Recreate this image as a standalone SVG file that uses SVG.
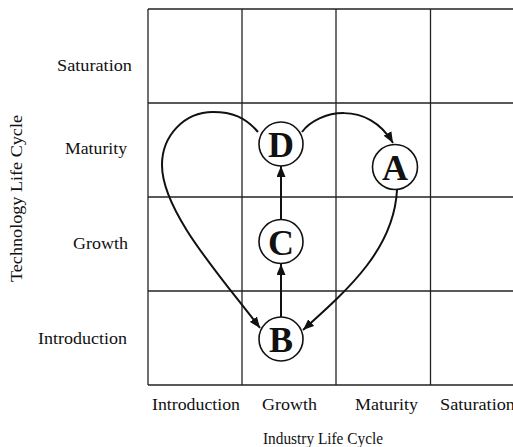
<svg xmlns="http://www.w3.org/2000/svg" width="513" height="447" viewBox="0 0 513 447">
<style>
.lbl{font-family:"Liberation Serif","Times New Roman",serif;font-size:16.5px;fill:#111}
.node circle{fill:#fff;stroke:#111;stroke-width:1.6}
.node text{font-family:"Liberation Serif","Times New Roman",serif;font-weight:bold;font-size:36px;fill:#111;text-anchor:middle}
.grid line{stroke:#222;stroke-width:1.3}
.edge{fill:none;stroke:#111;stroke-width:2}
</style>
<defs>
<marker id="arr" markerUnits="userSpaceOnUse" markerWidth="11" markerHeight="9" refX="11" refY="4.5" orient="auto">
<path d="M0,0 L11,4.5 L0,9 z" fill="#111"/>
</marker>
</defs>
<rect width="513" height="447" fill="#fff"/>
<g id="grid" class="grid">
<line x1="148" y1="9" x2="513" y2="9"/>
<line x1="148" y1="103" x2="513" y2="103"/>
<line x1="148" y1="197" x2="513" y2="197"/>
<line x1="148" y1="291" x2="513" y2="291"/>
<line x1="148" y1="385" x2="513" y2="385"/>
<line x1="148" y1="9" x2="148" y2="385"/>
<line x1="242" y1="9" x2="242" y2="385"/>
<line x1="336" y1="9" x2="336" y2="385"/>
<line x1="430.5" y1="9" x2="430.5" y2="385"/>
</g>
<g id="y-labels">
<text class="lbl" x="132" y="71" text-anchor="end" textLength="75" lengthAdjust="spacingAndGlyphs">Saturation</text>
<text class="lbl" x="127" y="154" text-anchor="end" textLength="62" lengthAdjust="spacingAndGlyphs">Maturity</text>
<text class="lbl" x="128" y="249" text-anchor="end" textLength="55" lengthAdjust="spacingAndGlyphs">Growth</text>
<text class="lbl" x="127" y="344" text-anchor="end" textLength="89" lengthAdjust="spacingAndGlyphs">Introduction</text>
<text class="lbl" transform="translate(22,198.5) rotate(-90)" text-anchor="middle" textLength="167" lengthAdjust="spacingAndGlyphs">Technology Life Cycle</text>
</g>
<g id="x-labels">
<text class="lbl" x="152" y="410" textLength="88" lengthAdjust="spacingAndGlyphs">Introduction</text>
<text class="lbl" x="262" y="410" textLength="55" lengthAdjust="spacingAndGlyphs">Growth</text>
<text class="lbl" x="355" y="410" textLength="63" lengthAdjust="spacingAndGlyphs">Maturity</text>
<text class="lbl" x="440" y="410" textLength="75" lengthAdjust="spacingAndGlyphs">Saturation</text>
<text class="lbl" x="263" y="444" textLength="120" lengthAdjust="spacingAndGlyphs">Industry Life Cycle</text>
</g>
<g id="connectors">
<path class="edge" d="M258,132 C245,117 232,112 213,112 C184,112 162,136 162,165 C162,212 222,278 260,328" marker-end="url(#arr)"/>
<path class="edge" d="M302,132 C318,110 368,100 393,143" marker-end="url(#arr)"/>
<path class="edge" d="M397,190 C394,248 350,288 303,330" marker-end="url(#arr)"/>
<path class="edge" d="M281,317 L281,264" marker-end="url(#arr)"/>
<path class="edge" d="M281,219 L281,166" marker-end="url(#arr)"/>
</g>
<g id="node-D" class="node"><circle cx="281" cy="144" r="22"/><text x="281" y="157">D</text></g>
<g id="node-A" class="node"><circle cx="395" cy="167" r="22.5"/><text x="395" y="180">A</text></g>
<g id="node-C" class="node"><circle cx="281" cy="241.5" r="22"/><text x="281" y="254.5">C</text></g>
<g id="node-B" class="node"><circle cx="281" cy="339" r="22"/><text x="281" y="352">B</text></g>
</svg>
